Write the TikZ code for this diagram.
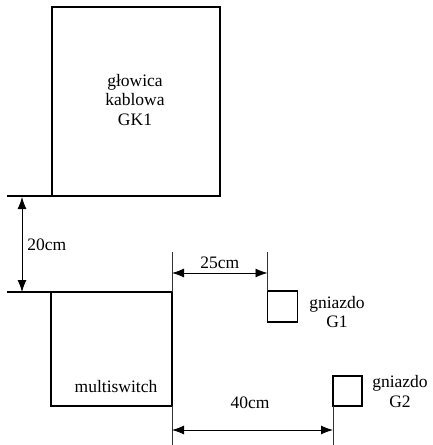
\documentclass[tikz,border=0pt]{standalone}
\usepackage{fontspec}
\setmainfont{Liberation Serif}
\usetikzlibrary{arrows.meta}
\begin{document}
\begin{tikzpicture}[x=1pt,y=-1pt,
  >={Latex[length=12pt,width=9pt]},
  box/.style={draw=black,line width=1.4pt,inner sep=0pt,outer sep=0pt},
  lbl/.style={font=\fontsize{17.5}{19.5}\selectfont,align=center,inner sep=0pt},
  extline/.style={draw=black!80,line width=0.9pt},
  dim/.style={draw=black,line width=0.9pt,<->}]
\useasboundingbox (0,0) rectangle (433,445);
% boxes
\node[box,minimum width=168pt,minimum height=189pt] (gk) at (136,101.5) {};
\node[box,minimum width=121pt,minimum height=114pt] (ms) at (111.5,349) {};
\node[box,minimum width=30pt,minimum height=31pt] (g1) at (282.5,306.5) {};
\node[box,minimum width=29pt,minimum height=30pt] (g2) at (347.5,391) {};
% labels
\node[lbl] (tgk) at (135,100) {głowica\\kablowa\\GK1};
\node[lbl] (tms) at (116,387) {multiswitch};
\node[lbl] (tg1) at (337,312) {gniazdo\\G1};
\node[lbl] (tg2) at (400,391.5) {gniazdo\\G2};
% extension lines
\coordinate (e1) at (7,196);
\coordinate (e2) at (7,292);
\draw[box] (e1) -- (gk.south west);
\draw[box] (e2) -- (ms.north west);
\coordinate (e3) at (ms.north east |- 0,252);
\coordinate (e4) at (g1.north west |- 0,252);
\draw[extline] (ms.north east) -- (e3);
\draw[extline] (g1.north west) -- (e4);
\coordinate (e5) at (ms.south east |- 0,445);
\coordinate (e6) at (g2.south west |- 0,445);
\draw[extline] (ms.south east) -- (e5);
\draw[extline] (g2.south west) -- (e6);
% dimension arrows
\coordinate (a1) at (22,197);
\coordinate (a2) at (22,292);
\draw[dim] (a1) -- (a2) node[lbl,midway,right=5pt] (t20) {20cm};
\coordinate (b1) at (ms.north east |- 0,273);
\coordinate (b2) at (g1.north west |- 0,273);
\draw[dim] (b1) -- (b2) node[lbl,midway,above=4pt] (t25) {25cm};
\coordinate (c1) at (ms.south east |- 0,430);
\coordinate (c2) at (g2.south west |- 0,430);
\draw[dim] (c1) -- (c2);
\node[lbl] (t40) at (250,403) {40cm};
\end{tikzpicture}
\end{document}
